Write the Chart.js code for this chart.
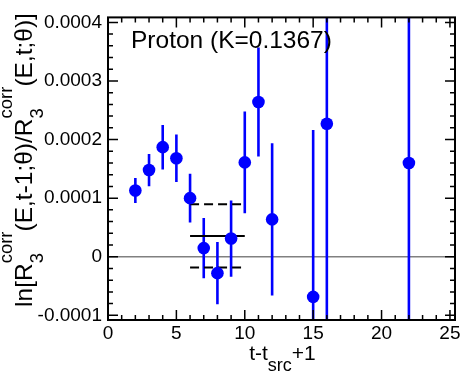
<!DOCTYPE html>
<html>
<head>
<meta charset="utf-8">
<script src="https://cdn.jsdelivr.net/npm/chart.js@4.4.1/dist/chart.umd.min.js"></script>
<style>
  html, body { margin: 0; padding: 0; background: #fff; }
  #wrap { width: 463px; height: 372px; }
</style>
</head>
<body>
<div id="wrap"><canvas id="chart"></canvas></div>
<script>
// ── data ─────────────────────────────────────────────────
const tValues = [2, 3, 4, 5, 6, 7, 8, 9, 10, 11, 12, 15, 16, 22];
const ratioValues = [0.000113, 0.000148, 0.000187, 0.000168, 0.000100, 0.0000147, -0.000028,
  0.000031, 0.000161, 0.000264, 0.0000637, -0.0000686, 0.000227, 0.000160];
const ratioErrors = [0.0000215, 0.0000275, 0.000038, 0.0000405, 0.0000415, 0.0000515, 0.000053,
  0.000065, 0.000087, 0.000093, 0.00013, 0.000285, 0.00045, 0.0004];
const fitRange = [6, 10];
const fitValue = 0.0000355;
const fitError = 0.000054;

const xTicks = [0, 5, 10, 15, 20, 25];
const xMinor = [...Array(26).keys()];
const yTicks = [-0.0001, 0, 0.0001, 0.0002, 0.0003, 0.0004];
const yTickLabels = ['-0.0001', '0', '0.0001', '0.0002', '0.0003', '0.0004'];
const yMinor = [-0.0001, -0.00008, -0.00006, -0.00004, -0.00002, 0, 0.00002, 0.00004, 0.00006, 0.00008,
  0.0001, 0.00012, 0.00014, 0.00016, 0.00018, 0.0002, 0.00022, 0.00024, 0.00026, 0.00028,
  0.0003, 0.00032, 0.00034, 0.00036, 0.00038, 0.0004];

const TITLE = 'Proton (K=0.1367)';
const FONT = '"Liberation Sans", Arial, Helvetica, sans-serif';
const BLUE = '#0000ff';

// rich text helper (sub/superscripts)
function richWidth(ctx, parts, main, small) {
  let w = 0;
  parts.forEach(p => {
    if (p.t) { ctx.font = main + 'px ' + FONT; w += ctx.measureText(p.t).width; }
    else {
      ctx.font = small + 'px ' + FONT;
      w += Math.max(ctx.measureText(p.sub || '').width, ctx.measureText(p.sup || '').width);
    }
  });
  return w;
}
function drawRich(ctx, parts, x, y, main, small, subDy, supDy) {
  parts.forEach(p => {
    if (p.t) {
      ctx.font = main + 'px ' + FONT;
      ctx.fillText(p.t, x, y);
      x += ctx.measureText(p.t).width;
    } else {
      ctx.font = small + 'px ' + FONT;
      let w = 0;
      if (p.sub) { ctx.fillText(p.sub, x, y + subDy); w = ctx.measureText(p.sub).width; }
      if (p.sup) { ctx.fillText(p.sup, x, y + supDy); w = Math.max(w, ctx.measureText(p.sup).width); }
      x += w;
    }
  });
}

const yTitleParts = [{ t: 'ln[R' }, { sub: '3', sup: 'corr' }, { t: '(E,t-1;θ)/R' }, { sub: '3', sup: 'corr' }, { t: '(E,t;θ)]' }];
const xTitleParts = [{ t: 't-t' }, { sub: 'src' }, { t: '+1' }];

const framePlugin = {
  id: 'frame',
  beforeDatasetsDraw(chart) {
    const { ctx, chartArea: a, scales: { x, y } } = chart;
    ctx.save();
    ctx.beginPath();
    ctx.rect(a.left, a.top, a.right - a.left, a.bottom - a.top);
    ctx.clip();
    // zero line
    ctx.strokeStyle = '#808080';
    ctx.lineWidth = 1.5;
    ctx.beginPath();
    ctx.moveTo(a.left, y.getPixelForValue(0));
    ctx.lineTo(a.right, y.getPixelForValue(0));
    ctx.stroke();
    // error bars
    ctx.strokeStyle = BLUE;
    ctx.lineWidth = 2.6;
    tValues.forEach((t, i) => {
      const px = x.getPixelForValue(t);
      ctx.beginPath();
      ctx.moveTo(px, y.getPixelForValue(ratioValues[i] - ratioErrors[i]));
      ctx.lineTo(px, y.getPixelForValue(ratioValues[i] + ratioErrors[i]));
      ctx.stroke();
    });
    ctx.restore();
  },
  afterDraw(chart) {
    const { ctx, chartArea: a, scales: { x, y } } = chart;
    ctx.save();
    ctx.strokeStyle = '#000';
    ctx.lineWidth = 1.5;
    ctx.beginPath();
    xMinor.forEach(v => {
      const px = x.getPixelForValue(v);
      const len = v % 5 === 0 ? 10 : 5;
      ctx.moveTo(px, a.bottom); ctx.lineTo(px, a.bottom - len);
      ctx.moveTo(px, a.top); ctx.lineTo(px, a.top + len);
    });
    yMinor.forEach((v, i) => {
      const py = y.getPixelForValue(v);
      const len = i % 5 === 0 ? 10 : 5;
      ctx.moveTo(a.left, py); ctx.lineTo(a.left + len, py);
      ctx.moveTo(a.right, py); ctx.lineTo(a.right - len, py);
    });
    ctx.stroke();
    ctx.lineWidth = 2;
    ctx.strokeRect(a.left, a.top, a.right - a.left, a.bottom - a.top);

    ctx.fillStyle = '#000';
    ctx.textBaseline = 'alphabetic';
    ctx.textAlign = 'left';
    ctx.font = '24.5px ' + FONT;
    ctx.fillText(TITLE, 131, 48);

    // x title
    const xw = richWidth(ctx, xTitleParts, 21, 18);
    drawRich(ctx, xTitleParts, 282.5 - xw / 2, 360, 21, 18, 11, 0);

    // y title
    ctx.translate(32, 160);
    ctx.rotate(-Math.PI / 2);
    const yw = richWidth(ctx, yTitleParts, 24.5, 18.5);
    drawRich(ctx, yTitleParts, -yw / 2, 0, 24.5, 18.5, 11, -20);
    ctx.restore();
  },
};

new Chart(document.getElementById('chart'), {
  type: 'scatter',
  data: {
    datasets: [
      {
        data: tValues.map((t, i) => ({ x: t, y: ratioValues[i] })),
        backgroundColor: BLUE,
        borderColor: BLUE,
        pointRadius: 6.3,
        borderWidth: 0,
      },
      {
        type: 'line',
        data: fitRange.map(t => ({ x: t, y: fitValue })),
        borderColor: '#000', borderWidth: 2, pointRadius: 0,
      },
      {
        type: 'line',
        data: fitRange.map(t => ({ x: t, y: fitValue + fitError })),
        borderColor: '#000', borderWidth: 2, pointRadius: 0, borderDash: [9, 5],
      },
      {
        type: 'line',
        data: fitRange.map(t => ({ x: t, y: fitValue - fitError })),
        borderColor: '#000', borderWidth: 2, pointRadius: 0, borderDash: [9, 5],
      },
    ],
  },
  options: {
    responsive: true, maintainAspectRatio: false, animation: false,
    layout: { padding: { top: 4, right: 8, left: 0, bottom: 0 } },
    plugins: { legend: { display: false }, tooltip: { enabled: false } },
    scales: {
      x: {
        type: 'linear', min: 0, max: 25.37,
        afterBuildTicks: s => { s.ticks = xTicks.map(v => ({ value: v })); },
        afterFit: s => { s.height = 52; },
        grid: { display: false, drawTicks: false },
        border: { display: false },
        ticks: { font: { family: FONT, size: 19 }, color: '#000', padding: 2, maxRotation: 0 },
      },
      y: {
        type: 'linear', min: -0.000108, max: 0.0004085,
        afterBuildTicks: s => { s.ticks = yTicks.map(v => ({ value: v })); },
        afterFit: s => { s.width = 108; },
        grid: { display: false, drawTicks: false },
        border: { display: false },
        ticks: {
          font: { family: FONT, size: 19 }, color: '#000', padding: 6,
          callback: (v, i) => yTickLabels[i],
        },
      },
    },
  },
  plugins: [framePlugin],
});
</script>
</body>
</html>
